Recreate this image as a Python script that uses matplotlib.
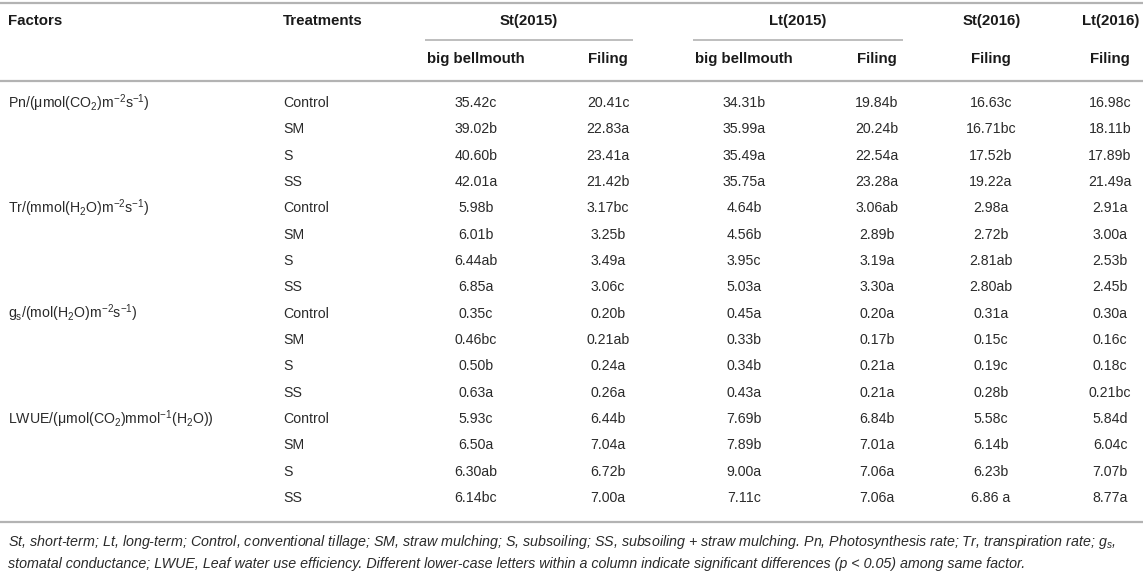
import matplotlib
matplotlib.use('Agg')
import matplotlib.pyplot as plt

plt.rcParams['font.family'] = ['Liberation Sans', 'DejaVu Sans']
plt.rcParams['mathtext.fontset'] = 'custom'
plt.rcParams['mathtext.rm'] = 'Liberation Sans'
plt.rcParams['mathtext.it'] = 'Liberation Sans:italic'
plt.rcParams['mathtext.bf'] = 'Liberation Sans:bold'

# table content
groups = ['St(2015)', 'Lt(2015)', 'St(2016)', 'Lt(2016)']
stages = ['big bellmouth', 'Filing', 'big bellmouth', 'Filing', 'Filing', 'Filing']
treatments = ['Control', 'SM', 'S', 'SS']
factors = [
    r'Pn/(μmol(CO$_\mathregular{2}$)m$^\mathregular{-2}$s$^\mathregular{-1}$)',
    r'Tr/(mmol(H$_\mathregular{2}$O)m$^\mathregular{-2}$s$^\mathregular{-1}$)',
    r'g$_\mathregular{s}$/(mol(H$_\mathregular{2}$O)m$^\mathregular{-2}$s$^\mathregular{-1}$)',
    r'LWUE/(μmol(CO$_\mathregular{2}$)mmol$^\mathregular{-1}$(H$_\mathregular{2}$O))',
]

pn = [['35.42c', '20.41c', '34.31b', '19.84b', '16.63c', '16.98c'],
      ['39.02b', '22.83a', '35.99a', '20.24b', '16.71bc', '18.11b'],
      ['40.60b', '23.41a', '35.49a', '22.54a', '17.52b', '17.89b'],
      ['42.01a', '21.42b', '35.75a', '23.28a', '19.22a', '21.49a']]
tr = [['5.98b', '3.17bc', '4.64b', '3.06ab', '2.98a', '2.91a'],
      ['6.01b', '3.25b', '4.56b', '2.89b', '2.72b', '3.00a'],
      ['6.44ab', '3.49a', '3.95c', '3.19a', '2.81ab', '2.53b'],
      ['6.85a', '3.06c', '5.03a', '3.30a', '2.80ab', '2.45b']]
gs = [['0.35c', '0.20b', '0.45a', '0.20a', '0.31a', '0.30a'],
      ['0.46bc', '0.21ab', '0.33b', '0.17b', '0.15c', '0.16c'],
      ['0.50b', '0.24a', '0.34b', '0.21a', '0.19c', '0.18c'],
      ['0.63a', '0.26a', '0.43a', '0.21a', '0.28b', '0.21bc']]
lwue = [['5.93c', '6.44b', '7.69b', '6.84b', '5.58c', '5.84d'],
        ['6.50a', '7.04a', '7.89b', '7.01a', '6.14b', '6.04c'],
        ['6.30ab', '6.72b', '9.00a', '7.06a', '6.23b', '7.07b'],
        ['6.14bc', '7.00a', '7.11c', '7.06a', '6.86 a', '8.77a']]
values = [pn, tr, gs, lwue]

caption = ('St, short-term; Lt, long-term; Control, conventional tillage; SM, straw mulching; S, subsoiling; '
           'SS, subsoiling + straw mulching. Pn, Photosynthesis rate; Tr, transpiration rate; $g_s$,\n'
           'stomatal conductance; LWUE, Leaf water use efficiency. Different lower-case letters within a '
           'column indicate significant differences (p < 0.05) among same factor.')

# layout (pixels)
W, H = 1143, 576
col_x = [476, 608, 744, 877, 991, 1110]
group_x = [529, 798, 992, 1111]
span_lines = [(425, 633), (693, 903)]
row0, dy = 103, 26.33
txt = '#2a2a2a'
rule = '#b3b3b3'
fs = 10.2
hfs = 10.8

fig = plt.figure(figsize=(W / 100, H / 100), dpi=100)
ax = fig.add_axes([0, 0, 1, 1])
ax.set_xlim(0, W)
ax.set_ylim(H, 0)
ax.axis('off')

# rules
ax.hlines(3, 0, W, color=rule, lw=1.6)
for a, b in span_lines:
    ax.hlines(40, a, b, color=rule, lw=1.2)
ax.hlines(81, 0, W, color=rule, lw=1.6)
ax.hlines(522, 0, W, color=rule, lw=1.6)

# header
hdr = dict(fontsize=hfs, fontweight='bold', color='#1a1a1a', va='center')
ax.text(8, 21, 'Factors', ha='left', **hdr)
ax.text(283, 21, 'Treatments', ha='left', **hdr)
for g, x in zip(groups, group_x):
    ax.text(x, 21, g, ha='center', **hdr)
for s, x in zip(stages, col_x):
    ax.text(x, 59, s, ha='center', **hdr)

# body
r = 0
for f, block in zip(factors, values):
    ax.text(8, row0 + r * dy, f, ha='left', va='center', fontsize=fs, color=txt)
    for t, row in zip(treatments, block):
        y = row0 + r * dy
        ax.text(283, y, t, ha='left', va='center', fontsize=fs, color=txt)
        for v, x in zip(row, col_x):
            ax.text(x, y, v, ha='center', va='center', fontsize=fs, color=txt)
        r += 1

ax.text(8, 552, caption, ha='left', va='center', fontsize=10.25, style='italic',
        color=txt, linespacing=1.6)

fig.savefig('out.png', dpi=100)
